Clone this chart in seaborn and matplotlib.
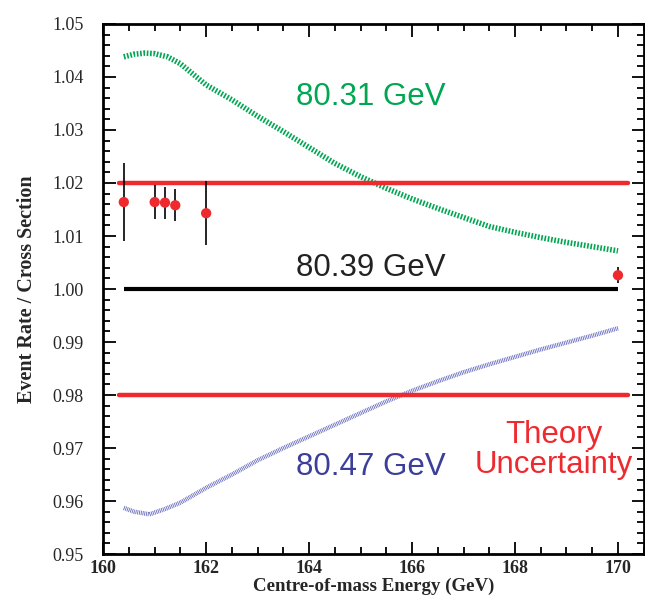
import matplotlib
matplotlib.use('Agg')
import matplotlib.pyplot as plt
from matplotlib.ticker import MultipleLocator
import pandas as pd
import seaborn as sns

# curve for M_W = 80.31 GeV
green_x = [160.4, 160.6, 160.8, 161.0, 161.25, 161.5, 162.0, 162.5, 163.0, 163.5,
           164.0, 164.5, 165.0, 165.5, 166.0, 166.5, 167.0, 167.5, 168.0, 168.5,
           169.0, 169.5, 170.0]
green_y = [1.0438, 1.0443, 1.0445, 1.0444, 1.0438, 1.0425, 1.0385, 1.0357, 1.0326, 1.0297,
           1.0267, 1.0237, 1.0212, 1.0190, 1.0170, 1.0152, 1.0135, 1.0118, 1.0107, 1.0097,
           1.0088, 1.0080, 1.0072]

# curve for M_W = 80.47 GeV
blue_x = [160.4, 160.6, 160.9, 161.2, 161.5, 162.0, 162.5, 163.0, 163.5, 164.0,
          164.5, 165.0, 165.5, 166.0, 166.5, 167.0, 167.5, 168.0, 168.5, 169.0,
          169.5, 170.0]
blue_y = [0.9587, 0.9580, 0.9575, 0.9585, 0.9597, 0.9625, 0.9650, 0.9677, 0.9700, 0.9722,
          0.9744, 0.9766, 0.9788, 0.9808, 0.9826, 0.9843, 0.9858, 0.9872, 0.9886, 0.9899,
          0.9912, 0.9926]

# measured points
pts_x = [160.4, 161.0, 161.2, 161.4, 162.0, 170.0]
pts_y = [1.0164, 1.0164, 1.0163, 1.0158, 1.0143, 1.0026]
pts_err = [0.0073, 0.0032, 0.0030, 0.0030, 0.0060, 0.0015]

ref_x = [160.4, 170.0]
ref_y = [1.0, 1.0]
band_x = [160.3, 170.2]
band_hi = 1.02
band_lo = 0.98

sns.set_theme(style='ticks')
plt.rcParams['font.family'] = ['Liberation Serif', 'DejaVu Serif']

fig = plt.figure(figsize=(6.45, 5.99), dpi=100)
ax = fig.add_axes([0.160, 0.075, 0.838, 0.885])

df_g = pd.DataFrame({'E': green_x, 'R': green_y})
df_b = pd.DataFrame({'E': blue_x, 'R': blue_y})
sns.lineplot(data=df_g, x='E', y='R', ax=ax, color='#00a651', lw=4.0,
             linestyle=(0, (0.3, 0.3)), sort=False)
sns.lineplot(data=df_b, x='E', y='R', ax=ax, color='#6a6ec0', lw=3.2,
             linestyle=(0, (0.2, 0.2)), sort=False)

ax.plot(band_x, [band_hi, band_hi], color='#ee2a2f', lw=3.2)
ax.plot(band_x, [band_lo, band_lo], color='#ee2a2f', lw=3.2)
ax.plot(ref_x, ref_y, color='black', lw=3, solid_capstyle='butt')

ax.errorbar(pts_x, pts_y, yerr=pts_err, fmt='none', ecolor='black', elinewidth=1.2, zorder=3)
sns.scatterplot(x=pts_x, y=pts_y, ax=ax, color='#ee2a2f', s=55, edgecolor='none', zorder=4)

sans = ['Liberation Sans', 'DejaVu Sans']
ax.text(165.2, 1.0362, '80.31 GeV', color='#00a651', fontsize=22.5, ha='center', va='center', family=sans)
ax.text(165.2, 1.0040, '80.39 GeV', color='#222222', fontsize=22.5, ha='center', va='center', family=sans)
ax.text(165.2, 0.9664, '80.47 GeV', color='#3b3f9a', fontsize=22.5, ha='center', va='center', family=sans)
ax.text(168.76, 0.9696, 'Theory\nUncertainty', color='#ee2a2f', fontsize=22.5, ha='center', va='center',
        family=sans, linespacing=1.0)

ax.set_xlim(160, 170.5)
ax.set_ylim(0.95, 1.05)
ax.xaxis.set_major_locator(MultipleLocator(2))
ax.xaxis.set_minor_locator(MultipleLocator(0.5))
ax.yaxis.set_major_locator(MultipleLocator(0.01))
ax.yaxis.set_minor_locator(MultipleLocator(0.002))
ax.set_xticks([160, 162, 164, 166, 168, 170])
ax.set_xticklabels(['160', '162', '164', '166', '168', '170'], fontweight='bold')
ax.yaxis.set_major_formatter(plt.FuncFormatter(lambda v, p: f'{v:.2f}'))
ax.tick_params(which='both', direction='in', top=True, right=True, width=1.3, color='black')
ax.tick_params(which='major', length=9, labelsize=13)
ax.tick_params(which='minor', length=5)
ax.tick_params(axis='x', pad=4)
ax.tick_params(axis='y', pad=14)
for s in ax.spines.values():
    s.set_linewidth(2)
    s.set_color('black')

ax.set_xlabel('Centre-of-mass Energy (GeV)', fontsize=13.6, fontweight='bold', labelpad=1)
ax.set_ylabel('Event Rate / Cross Section', fontsize=14.5, fontweight='bold', labelpad=11)

fig.savefig('out.png', dpi=100)
